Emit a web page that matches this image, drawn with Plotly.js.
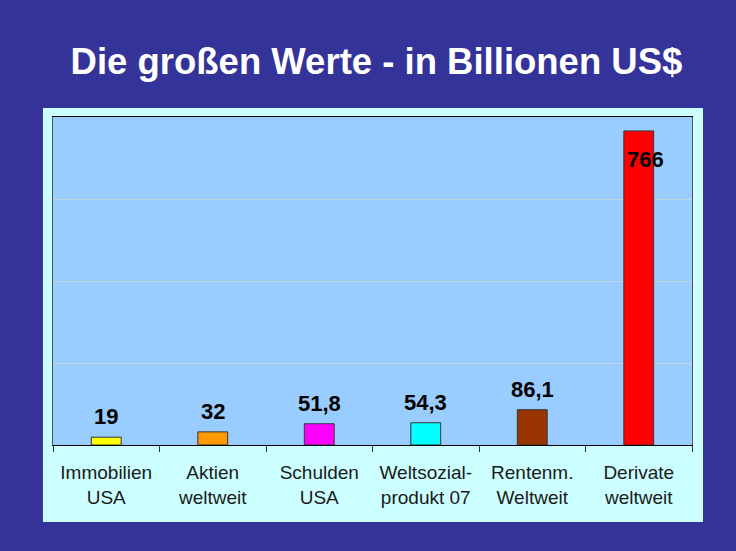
<!DOCTYPE html>
<html>
<head>
<meta charset="utf-8">
<script src="https://cdn.plot.ly/plotly-3.0.1.min.js"></script>
<style>html,body{margin:0;padding:0;background:#333399;}</style>
</head>
<body>
<div id="chart" style="width:736px;height:551px;"></div>
<script>
// Data
const categories = ["Immobilien<br>USA", "Aktien<br>weltweit", "Schulden<br>USA", "Weltsozial-<br>produkt 07", "Rentenm.<br>Weltweit", "Derivate<br>weltweit"];
const values = [19, 32, 51.8, 54.3, 86.1, 766];
const valueLabels = ["19", "32", "51,8", "54,3", "86,1", "766"];
const barColors = ["#FFFF00", "#FF9900", "#FF00FF", "#00FFFF", "#993300", "#FF0000"];
const labelInside = [false, false, false, false, false, true];

const trace = {
  type: "bar",
  x: categories,
  y: values,
  width: 0.28,
  marker: {color: barColors, line: {color: "#333333", width: 1}},
  hoverinfo: "none"
};

const annotations = categories.map((c, i) => ({
  x: c, y: values[i], xref: "x", yref: "y",
  text: "<b>" + valueLabels[i] + "</b>",
  showarrow: false,
  yanchor: labelInside[i] ? "top" : "bottom",
  yshift: labelInside[i] ? -14 : 6,
  xshift: labelInside[i] ? 7 : 0,
  font: {family: "Liberation Sans, Arial, sans-serif", size: 22, color: "#000000"}
}));

const layout = {
  width: 736, height: 551,
  margin: {l: 53, r: 44, t: 117, b: 106, pad: 0},
  paper_bgcolor: "#333399",
  plot_bgcolor: "rgba(0,0,0,0)",
  showlegend: false,
  title: {
    text: "<b>Die großen Werte - in Billionen US$</b>",
    font: {family: "Liberation Sans, Arial, sans-serif", size: 36.5, color: "#FFFFFF"},
    x: 0.5115, xref: "container", xanchor: "center",
    y: 0.889, yref: "container", yanchor: "middle"
  },
  xaxis: {
    type: "category",
    showline: true, linecolor: "#000000", linewidth: 1, mirror: true,
    ticks: "outside", tickson: "boundaries", ticklen: 6, tickcolor: "#333333",
    ticklabelstandoff: 10,
    tickfont: {family: "Liberation Sans, Arial, sans-serif", size: 19, color: "#1a1a1a"},
    showgrid: false, fixedrange: true
  },
  yaxis: {
    range: [0, 800], dtick: 200, tick0: 0,
    showticklabels: false, ticks: "",
    showgrid: true, gridcolor: "#c4d4dc", gridwidth: 1,
    showline: true, linecolor: "#555555", linewidth: 1, mirror: true,
    zeroline: false, fixedrange: true
  },
  shapes: [
    {type: "rect", xref: "paper", yref: "paper", x0: -0.0157, x1: 1.0172, y0: -0.2348, y1: 1.0274,
     fillcolor: "#CCFFFF", line: {width: 0}, layer: "below"},
    {type: "rect", xref: "paper", yref: "paper", x0: 0, x1: 1, y0: 0, y1: 1,
     fillcolor: "#99CCFF", line: {width: 0}, layer: "below"}
  ],
  annotations: annotations
};

Plotly.newPlot("chart", [trace], layout, {displayModeBar: false, staticPlot: true});
</script>
</body>
</html>
